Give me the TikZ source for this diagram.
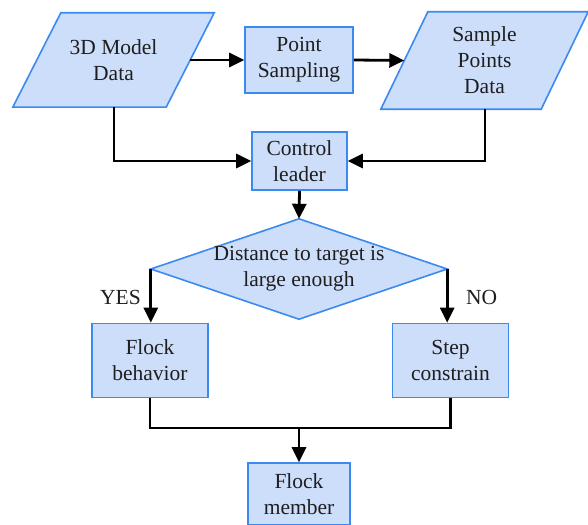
\documentclass[tikz,border=0pt]{standalone}
\usepackage{fontspec}
\setmainfont{Liberation Serif}
\usetikzlibrary{arrows.meta,calc}
\definecolor{boxfill}{RGB}{205,222,250}
\definecolor{boxline}{RGB}{58,138,242}
\definecolor{txt}{RGB}{30,30,30}
\begin{document}
\begin{tikzpicture}[x=1pt,y=-1pt,
  every node/.style={font=\rmfamily\fontsize{21.5pt}{26pt}\selectfont, text=txt, align=center, inner sep=0pt},
  procbox/.style={draw=boxline, fill=boxfill, line width=1.6pt},
  shapeline/.style={draw=boxline, fill=boxfill, line width=1.6pt},
  conn/.style={line width=2.8pt, line join=miter, -{Triangle[length=15pt,width=14pt]}},
  plain/.style={line width=2.8pt}
]
\useasboundingbox (0,0) rectangle (588,524);

% parallelogram: 3D Model Data
\node[minimum width=153pt, minimum height=94pt] (model) at (113.5,60) {};
\filldraw[shapeline] ($(model.south west)+(-24,0)$) -- ($(model.south east)+(-24,0)$)
  -- ($(model.north east)+(24,0)$) -- ($(model.north west)+(24,0)$) -- cycle;
\node at (model.center) {3D Model\\Data};

% Point Sampling
\node[procbox, minimum width=108pt, minimum height=66pt] (ps) at (299,60) {Point\\Sampling};

% parallelogram: Sample Points Data
\node[minimum width=160pt, minimum height=97pt] (spd) at (484.5,60.5) {};
\filldraw[shapeline] ($(spd.south west)+(-23.5,0)$) -- ($(spd.south east)+(-23.5,0)$)
  -- ($(spd.north east)+(23.5,0)$) -- ($(spd.north west)+(23.5,0)$) -- cycle;
\node at (spd.center) {Sample\\Points\\Data};

% Control leader
\node[procbox, minimum width=95pt, minimum height=58pt] (cl) at (299.5,161) {Control\\leader};

% Diamond
\node[minimum width=296pt, minimum height=100pt] (dec) at (299,269) {};
\filldraw[shapeline] (dec.north) -- (dec.east) -- (dec.south) -- (dec.west) -- cycle;
\node at (dec.center) {Distance to target is\\large enough};

% Flock behavior, Step constrain
\node[procbox, minimum width=116pt, minimum height=74pt] (fb) at (150,360.5) {Flock\\behavior};
\node[procbox, minimum width=116pt, minimum height=74pt] (sc) at (450.5,360.5) {Step\\constrain};

% Flock member
\node[procbox, minimum width=102pt, minimum height=62pt] (fm) at (299,494) {Flock\\member};

% labels
\node[anchor=east] (yes) at (141,297) {YES};
\node[anchor=west] (no) at (466,297) {NO};

% connectors
\coordinate (mb) at (114,107);
\coordinate (sb) at (485,109);
\coordinate (jm) at (299,428);

\draw[conn] (model.east) -- (ps.west);
\draw[conn] (ps.east) -- (spd.west);
\draw[conn] (mb) |- (cl.west);
\draw[conn] (sb) |- (cl.east);
\draw[conn] (cl.south) -- (dec.north);
\draw[conn] (dec.west) -- (fb.north -| dec.west);
\draw[conn] (dec.east) -- (sc.north -| dec.east);
\draw[plain] (fb.south) |- (jm) -| (sc.south);
\draw[conn] (jm) -- (fm.north);
\end{tikzpicture}
\end{document}
